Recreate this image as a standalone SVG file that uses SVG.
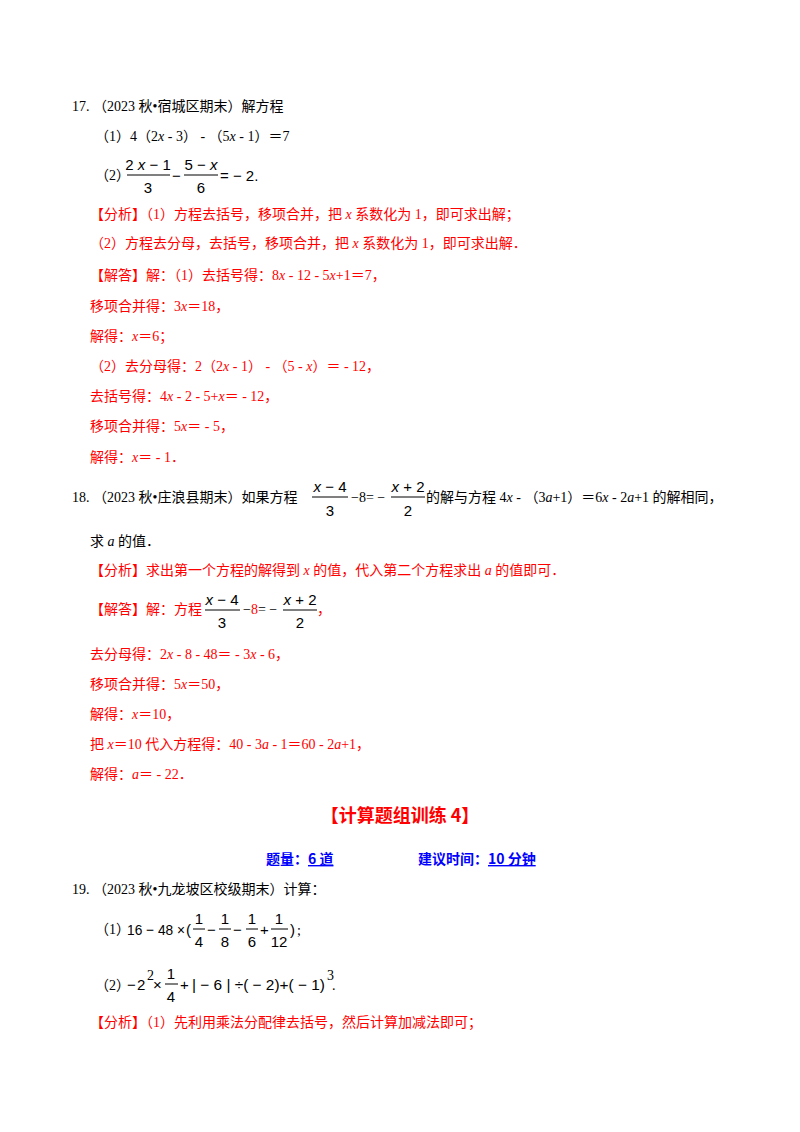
<svg xmlns="http://www.w3.org/2000/svg" width="800" height="1132" viewBox="0 0 800 1132">
<style>
text{font-family:"Liberation Serif","Noto Sans CJK SC",serif;font-size:14px;fill:#000}
.r text{fill:#f00}
.i{font-style:italic}
.m{font-family:"Liberation Sans","DejaVu Sans",sans-serif;font-size:15px}
.c{text-anchor:middle}
.bar{stroke:#000;stroke-width:1}
.h{font-family:"Noto Sans CJK SC",sans-serif;font-weight:bold;font-size:18px;fill:#f00}
.b{font-family:"Noto Sans CJK SC",sans-serif;font-weight:bold;font-size:14px;fill:#00f}
</style>
<rect width="800" height="1132" fill="#fff"/>
<g id="q17">
<text x="72" y="111">17.  （2023 秋•宿城区期末）解方程</text>
<text x="95" y="141">（1）4（2<tspan class="i">x</tspan> - 3） - （5<tspan class="i">x</tspan> - 1）＝7</text>
<text x="95" y="180">（2）</text>
<text class="m c" x="148" y="170">2<tspan class="i"> x</tspan> − 1</text>
<line class="bar" x1="127" y1="175" x2="170" y2="175"/>
<text class="m c" x="148" y="193">3</text>
<text class="m" x="172" y="181">−</text>
<text class="m c" x="201" y="170">5 − <tspan class="i">x</tspan></text>
<line class="bar" x1="184" y1="175" x2="218" y2="175"/>
<text class="m c" x="201" y="193">6</text>
<text class="m" x="220" y="181">= − 2.</text>
</g>
<g id="a17" class="r">
<text x="90" y="219">【分析】（1）方程去括号，移项合并，把 <tspan class="i">x</tspan> 系数化为 1，即可求出解；</text>
<text x="90" y="248">（2）方程去分母，去括号，移项合并，把 <tspan class="i">x</tspan> 系数化为 1，即可求出解．</text>
<text x="90" y="280">【解答】解：（1）去括号得：8<tspan class="i">x</tspan> - 12 - 5<tspan class="i">x</tspan>+1＝7，</text>
<text x="90" y="311">移项合并得：3<tspan class="i">x</tspan>＝18，</text>
<text x="90" y="341">解得：<tspan class="i">x</tspan>＝6；</text>
<text x="90" y="371">（2）去分母得：2（2<tspan class="i">x</tspan> - 1） - （5 - <tspan class="i">x</tspan>）＝ - 12，</text>
<text x="90" y="401">去括号得：4<tspan class="i">x</tspan> - 2 - 5+<tspan class="i">x</tspan>＝ - 12，</text>
<text x="90" y="431">移项合并得：5<tspan class="i">x</tspan>＝ - 5，</text>
<text x="90" y="462">解得：<tspan class="i">x</tspan>＝ - 1．</text>
</g>
<g id="q18">
<text x="72" y="502">18.  （2023 秋•庄浪县期末）如果方程</text>
<text class="m c" x="330" y="492"><tspan class="i">x</tspan> − 4</text>
<line class="bar" x1="312" y1="497" x2="348" y2="497"/>
<text class="m c" x="330" y="516">3</text>
<text x="351" y="502">−8= −</text>
<text class="m c" x="408" y="492"><tspan class="i">x</tspan> + 2</text>
<line class="bar" x1="391" y1="497" x2="425" y2="497"/>
<text class="m c" x="408" y="516">2</text>
<text x="426" y="502">的解与方程 4<tspan class="i">x</tspan> - （3<tspan class="i">a</tspan>+1）＝6<tspan class="i">x</tspan> - 2<tspan class="i">a</tspan>+1 的解相同，</text>
<text x="90" y="546">求 <tspan class="i">a</tspan> 的值．</text>
</g>
<g id="a18" class="r">
<text x="90" y="575">【分析】求出第一个方程的解得到 <tspan class="i">x</tspan> 的值，代入第二个方程求出 <tspan class="i">a</tspan> 的值即可．</text>
<text x="90" y="614">【解答】解：方程</text>
<text class="m c" x="222" y="605" style="fill:#000"><tspan class="i">x</tspan> − 4</text>
<line class="bar" x1="205" y1="610" x2="240" y2="610"/>
<text class="m c" x="222" y="628" style="fill:#000">3</text>
<text x="243" y="614"><tspan style="fill:#000">−</tspan>8<tspan style="fill:#000">= −</tspan></text>
<text class="m c" x="300" y="605" style="fill:#000"><tspan class="i">x</tspan> + 2</text>
<line class="bar" x1="283" y1="610" x2="317" y2="610"/>
<text class="m c" x="300" y="628" style="fill:#000">2</text>
<text x="317" y="614">，</text>
<text x="90" y="659">去分母得：2<tspan class="i">x</tspan> - 8 - 48＝ - 3<tspan class="i">x</tspan> - 6，</text>
<text x="90" y="689">移项合并得：5<tspan class="i">x</tspan>＝50，</text>
<text x="90" y="719">解得：<tspan class="i">x</tspan>＝10，</text>
<text x="90" y="749">把 <tspan class="i">x</tspan>＝10 代入方程得：40 - 3<tspan class="i">a</tspan> - 1＝60 - 2<tspan class="i">a</tspan>+1，</text>
<text x="90" y="779">解得：<tspan class="i">a</tspan>＝ - 22．</text>
</g>
<g id="heading">
<text class="h" x="400" y="822" text-anchor="middle">【计算题组训练 4】</text>
<text class="b" x="266" y="864">题量：<tspan text-decoration="underline">6 道</tspan></text>
<text class="b" x="418" y="864">建议时间：<tspan text-decoration="underline">10 分钟</tspan></text>
</g>
<g id="q19">
<text x="72" y="894">19.  （2023 秋•九龙坡区校级期末）计算：</text>
<text x="95" y="934">（1）</text>
<text class="m" x="127" y="935" textLength="58" lengthAdjust="spacingAndGlyphs">16 − 48 ×</text>
<text class="m" x="186" y="935">(</text>
<text class="m c" x="199" y="924">1</text><line class="bar" x1="193" y1="929" x2="205" y2="929"/><text class="m c" x="199" y="947">4</text>
<text class="m" x="207" y="935">−</text>
<text class="m c" x="225" y="924">1</text><line class="bar" x1="219" y1="929" x2="231" y2="929"/><text class="m c" x="225" y="947">8</text>
<text class="m" x="233" y="935">−</text>
<text class="m c" x="252" y="924">1</text><line class="bar" x1="246" y1="929" x2="258" y2="929"/><text class="m c" x="252" y="947">6</text>
<text class="m" x="260" y="935" font-size="12">+</text>
<text class="m c" x="279" y="924">1</text><line class="bar" x1="271" y1="929" x2="288" y2="929"/><text class="m c" x="279" y="947">12</text>
<text class="m" x="290" y="935">)</text><text x="297" y="935">;</text>
<text x="95" y="990">（2）</text>
<text class="m" x="127" y="990">−</text>
<text class="m" x="137" y="990">2</text><text x="147" y="980" font-size="9">2</text>
<text class="m" x="153" y="990" font-size="13">×</text>
<text class="m c" x="171" y="979">1</text><line class="bar" x1="165" y1="984" x2="178" y2="984"/><text class="m c" x="171" y="1002">4</text>
<text class="m" x="180" y="990" font-size="12">+</text>
<text class="m" x="192" y="990" textLength="133" lengthAdjust="spacingAndGlyphs">| − 6 | ÷( − 2)+( − 1)</text>
<text x="327" y="980" font-size="9">3</text><text x="332" y="990">.</text>
</g>
<g id="a19" class="r">
<text x="90" y="1027">【分析】（1）先利用乘法分配律去括号，然后计算加减法即可；</text>
</g>
</svg>
